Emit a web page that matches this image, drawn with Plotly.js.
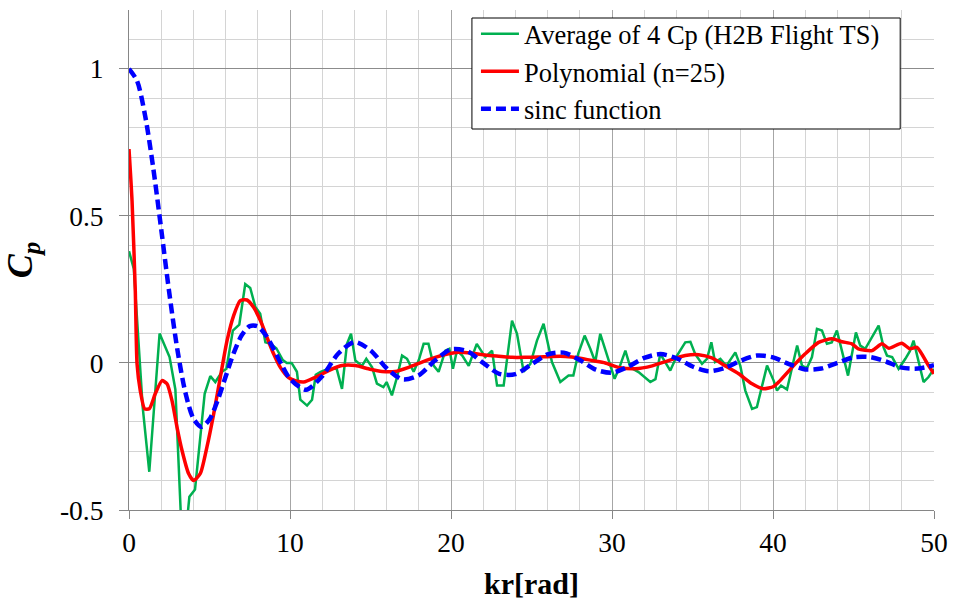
<!DOCTYPE html>
<html>
<head>
<meta charset="utf-8">
<script src="https://cdn.plot.ly/plotly-3.0.1.min.js"></script>
<style>
  html, body { margin: 0; padding: 0; background: #fff; }
  #chart { width: 955px; height: 608px; }
</style>
</head>
<body>
<div id="chart"></div>
<script>
// ---- Data ----
const seriesNames = ["Average of 4 Cp (H2B Flight TS)", "Polynomial (n=25)", "sinc function"];

const avgX = [0,0.3,0.85,1.26,1.9,2.52,2.88,3.35,3.75,4.1,4.7,5.05,5.36,5.78,6.05,6.45,6.85,7.22,7.53,7.85,8.15,8.47,8.8,9.15,9.55,9.8,10.1,10.43,10.64,11.06,11.37,11.6,11.9,12.4,12.9,13.23,13.54,13.79,14.06,14.47,14.74,15.1,15.4,15.8,16.0,16.33,16.65,16.96,17.27,17.68,18.0,18.3,18.6,18.92,19.23,19.65,19.9,20.12,20.37,20.7,21.1,21.6,22.13,22.55,22.86,23.27,23.79,24.1,24.51,24.93,25.34,25.75,26.27,26.79,27.3,27.6,27.9,28.3,28.65,28.96,29.27,30.16,30.43,30.83,31.14,31.65,32.38,32.7,33.0,33.4,33.62,34.04,34.55,34.87,35.17,35.59,35.9,36.17,36.4,36.73,37.1,37.66,37.97,38.28,38.7,39.0,39.63,40.04,40.25,40.5,40.87,41.5,41.8,42.1,42.42,42.73,43.04,43.35,43.65,43.97,44.66,45.15,45.42,45.73,46.56,46.87,47.08,47.4,47.8,48.22,48.5,48.73,49.35,49.66,50];
const avgY = [0.38,0.32,-0.15,-0.37,0.10,0.02,-0.09,-0.68,-0.455,-0.43,-0.105,-0.045,-0.065,-0.03,-0.02,0.11,0.13,0.268,0.255,0.19,0.167,0.07,0.065,0.05,0.01,0.0,0.0,-0.03,-0.125,-0.145,-0.125,-0.04,-0.03,-0.02,-0.02,-0.088,0.065,0.099,0.008,-0.01,0.014,-0.015,-0.07,-0.082,-0.065,-0.11,-0.048,0.025,0.014,-0.03,0.01,0.065,0.065,-0.009,-0.03,0.042,0.048,-0.02,0.042,0.025,-0.01,0.065,0.02,0.042,-0.077,-0.077,0.144,0.099,-0.03,-0.003,0.076,0.133,0.003,-0.065,-0.043,-0.043,0.031,0.093,0.048,0.003,0.099,-0.054,-0.02,0.042,-0.015,-0.031,-0.065,-0.055,0.031,-0.003,-0.026,0.025,0.07,0.072,0.03,-0.003,0.014,0.07,0.003,0.014,-0.01,0.036,-0.01,-0.094,-0.156,-0.15,-0.009,-0.06,-0.094,-0.077,-0.09,0.059,-0.009,-0.018,0.02,0.116,0.11,0.065,0.07,0.11,-0.043,0.104,0.059,0.048,0.127,0.053,0.025,0.02,-0.02,0.014,0.04,0.076,-0.065,-0.048,-0.02];

const polyX = [0,0.19,0.39,0.5,0.7,0.97,1.26,1.63,2.05,2.36,2.67,2.98,3.29,3.7,4.01,4.43,4.84,5.26,5.67,6.09,6.5,6.91,7.33,7.74,8.16,8.57,8.98,9.4,9.91,10.33,10.85,11.57,12.4,13.23,14.06,14.88,15.71,16.54,17.37,18.2,19.02,19.85,20.47,21.3,22.13,22.96,23.8,24.6,25.4,26.27,27.1,27.93,28.76,29.58,30.41,31.45,32.5,33.5,34.55,35.38,36.2,37.04,37.87,38.7,39.4,40.04,40.35,41.18,42.0,42.83,43.66,44.29,44.9,45.3,46.15,46.77,47.2,48.0,48.5,48.94,49.66,50];
const polyY = [0.727,0.55,0.246,-0.003,-0.094,-0.156,-0.156,-0.105,-0.06,-0.071,-0.128,-0.218,-0.297,-0.376,-0.40,-0.376,-0.286,-0.173,-0.049,0.076,0.161,0.212,0.214,0.189,0.144,0.087,0.031,-0.015,-0.05,-0.06,-0.065,-0.049,-0.026,-0.009,-0.009,-0.02,-0.029,-0.029,-0.015,0.003,0.019,0.031,0.036,0.033,0.027,0.023,0.019,0.019,0.02,0.022,0.022,0.017,0.008,0.0,-0.015,-0.02,-0.01,0.008,0.025,0.028,0.017,-0.01,-0.037,-0.071,-0.088,-0.08,-0.065,-0.015,0.031,0.07,0.082,0.072,0.065,0.048,0.042,0.065,0.05,0.067,0.048,0.053,-0.009,-0.037];

const sincX = [0,0.5,1,1.5,2,2.5,3,3.5,4,4.5,5,5.5,6,6.5,7,7.5,8,8.5,9,9.5,10,11,12,13,14,15,16,17,18,19,20,21,22,23,24,25,26,27,28,29,30,31,32,33,34,35,36,37,38,39,40,41,42,43,44,45,46,47,48,49,50];
const sincY = [1.0,0.959,0.841,0.665,0.455,0.239,0.047,-0.100,-0.189,-0.217,-0.192,-0.128,-0.047,0.033,0.094,0.125,0.124,0.094,0.046,-0.008,-0.054,-0.091,-0.045,0.032,0.071,0.043,-0.018,-0.056,-0.042,0.008,0.046,0.040,0.000,-0.037,-0.038,-0.005,0.029,0.035,0.010,-0.023,-0.033,-0.013,0.017,0.030,0.016,-0.012,-0.028,-0.017,0.008,0.025,0.019,-0.004,-0.022,-0.019,0.000,0.019,0.020,0.005,-0.016,-0.019,-0.008];

const xTickVals = [0,10,20,30,40,50];
const xTickText = ["0","10","20","30","40","50"];
const yTickVals = [-0.5,0,0.5,1];
const yTickText = ["-0.5","0","0.5","1"];

const serif = "Liberation Serif, Times New Roman, serif";

const traces = [
  {x: avgX, y: avgY, name: seriesNames[0], type: "scatter", mode: "lines",
   line: {color: "#00b050", width: 2.5}},
  {x: polyX, y: polyY, name: seriesNames[1], type: "scatter", mode: "lines",
   line: {color: "#ff0000", width: 3.5, shape: "spline", smoothing: 0.6}},
  {x: sincX, y: sincY, name: seriesNames[2], type: "scatter", mode: "lines",
   line: {color: "#0000ff", width: 4.5, dash: "10px,5px", shape: "spline", smoothing: 0.8}}
];

const layout = {
  width: 955, height: 608,
  margin: {l: 129, r: 21, t: 10, b: 98, pad: 0},
  paper_bgcolor: "#ffffff",
  plot_bgcolor: "#ffffff",
  showlegend: true,
  legend: {
    x: 0.431, y: 1.0, xanchor: "left", yanchor: "top",
    bgcolor: "rgba(0,0,0,0)", borderwidth: 0,
    font: {family: serif, size: 26.5, color: "#000"},
    itemwidth: 38,
    tracegroupgap: 0
  },
  // legend frame (white box with black border)
  shapes: [{
    type: "rect", xref: "paper", yref: "paper", layer: "above",
    x0: 0.426, x1: 0.958, y0: 0.762, y1: 0.984,
    fillcolor: "#ffffff", line: {color: "#000000", width: 1}
  }],
  xaxis: {
    range: [0, 50],
    tickvals: xTickVals, ticktext: xTickText,
    ticks: "outside", ticklen: 8, tickcolor: "#868686", tickwidth: 1,
    showline: true, linecolor: "#868686", linewidth: 1,
    showgrid: true, gridcolor: "#a6a6a6", gridwidth: 1,
    minor: {dtick: 2, showgrid: true, gridcolor: "#d4d4d4", gridwidth: 1, ticks: ""},
    zeroline: false,
    tickfont: {family: serif, size: 27.5, color: "#000"},
    title: {text: "<b>kr[rad]</b>", font: {family: serif, size: 30, color: "#000"}, standoff: 15}
  },
  yaxis: {
    range: [-0.5, 1.2],
    tickvals: yTickVals, ticktext: yTickText,
    ticks: "outside", ticklen: 9, tickcolor: "#868686", tickwidth: 1,
    ticklabelstandoff: 10,
    showline: true, linecolor: "#868686", linewidth: 1,
    showgrid: true, gridcolor: "#8c8c8c", gridwidth: 1,
    minor: {dtick: 0.1, showgrid: true, gridcolor: "#d4d4d4", gridwidth: 1, ticks: ""},
    zeroline: false,
    tickfont: {family: serif, size: 27.5, color: "#000"},
    title: {text: "<b><i>C<sub>p</sub></i></b>", font: {family: serif, size: 36, color: "#000"}, standoff: 16}
  }
};

Plotly.newPlot("chart", traces, layout, {displayModeBar: false, staticPlot: true});
</script>
</body>
</html>
